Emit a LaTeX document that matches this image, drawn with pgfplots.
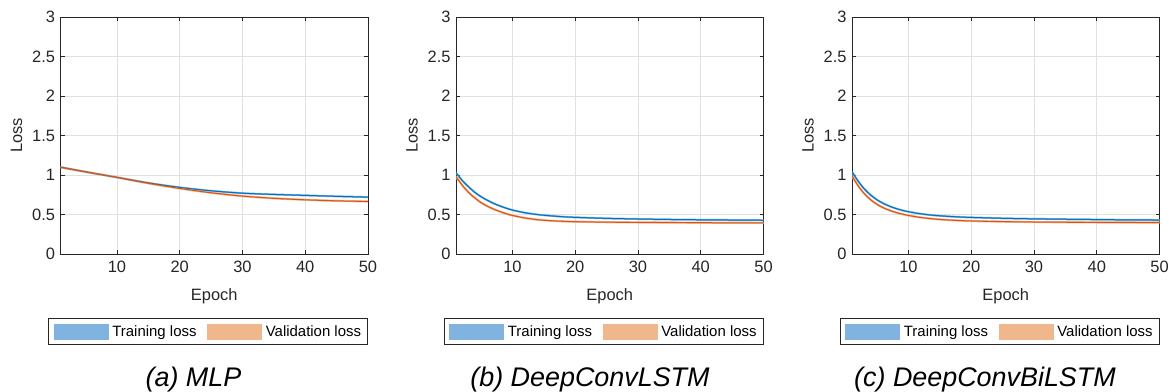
\documentclass[border=0pt]{standalone}
\usepackage{pgfplots}
\pgfplotsset{compat=1.18}
\usepackage{pgfplotstable}
\usepackage{fontspec}
\setmainfont{Liberation Sans}
\definecolor{mblue}{RGB}{0,114,189}
\definecolor{morange}{RGB}{217,83,25}
\definecolor{lblue}{RGB}{128,179,224}
\definecolor{lorange}{RGB}{240,183,140}
\definecolor{axgray}{RGB}{38,38,38}
\definecolor{gridgray}{RGB}{225,225,225}

\pgfplotstableread{
epoch train val
1  1.100 1.097
5  1.040 1.040
10 0.970 0.970
15 0.900 0.895
20 0.843 0.830
25 0.800 0.775
30 0.770 0.733
35 0.754 0.705
40 0.742 0.686
45 0.730 0.673
50 0.720 0.665
}\mlp

\pgfplotstableread{
epoch train val
1  1.030 0.980
2  0.930 0.870
3  0.850 0.780
4  0.780 0.710
5  0.725 0.650
6  0.680 0.605
7  0.640 0.568
8  0.608 0.537
9  0.580 0.510
10 0.556 0.488
12 0.522 0.456
14 0.499 0.434
16 0.484 0.422
18 0.472 0.414
20 0.464 0.409
25 0.451 0.403
30 0.443 0.400
35 0.437 0.398
40 0.433 0.396
45 0.430 0.395
50 0.427 0.394
}\lstm

\pgfplotstableread{
epoch train val
1  1.040 0.990
2  0.920 0.860
3  0.820 0.760
4  0.745 0.685
5  0.685 0.628
6  0.640 0.585
7  0.604 0.552
8  0.576 0.526
9  0.553 0.505
10 0.535 0.488
12 0.508 0.462
14 0.490 0.444
16 0.478 0.432
18 0.469 0.424
20 0.463 0.418
25 0.452 0.410
30 0.445 0.405
35 0.440 0.402
40 0.436 0.400
45 0.432 0.399
50 0.430 0.398
}\bilstm

\pgfplotsset{
  panel/.style={
    scale only axis, width=307.5bp, height=237bp, anchor=north west,
    xmin=1, xmax=50, ymin=0, ymax=3,
    xtick={10,20,30,40,50}, ytick={0,0.5,1,1.5,2,2.5,3},
    grid=major, major grid style={color=gridgray, line width=0.7bp},
    axis line style={color=axgray, line width=0.8bp},
    tick style={color=axgray, line width=0.8bp},
    tick align=inside, major tick length=4bp,
    ticklabel style={font=\fontsize{16.5}{18}\selectfont, color=axgray},
    xticklabel style={yshift=-3bp},
    yticklabel style={xshift=-2bp},
    /pgf/number format/assume math mode=true,
    xlabel=Epoch, ylabel=Loss,
    xlabel style={font=\fontsize{16.5}{18}\selectfont, color=axgray, at={(axis description cs:0.5,0)}, anchor=center, yshift=-42bp},
    ylabel style={font=\fontsize{16.5}{18}\selectfont, color=axgray, at={(axis description cs:0,0.5)}, anchor=center, rotate=0, yshift=44bp},
    legend columns=2,
    legend style={at={(1,-0.327)}, anchor=east, draw=axgray, line width=0.8bp,
      font=\fontsize{15}{17}\selectfont, inner sep=5bp,
      cells={anchor=west}, nodes={inner sep=1.5bp},
      /tikz/every odd column/.append style={column sep=2.5bp},
      /tikz/every even column/.append style={column sep=9bp}},
  },
  trainline/.style={mblue, line width=1bp, smooth},
  valline/.style={morange, line width=1bp, smooth},
  trainhalo/.style={lblue, line width=2bp, smooth, forget plot},
  valhalo/.style={lorange, line width=2.2bp, smooth, forget plot},
}

\newcommand{\panelplots}[1]{%
  \addlegendimage{legend image code/.code={\fill[lblue] (0bp,-7.5bp) rectangle (54bp,7.5bp);}}
  \addlegendentry{Training loss}
  \addlegendimage{legend image code/.code={\fill[lorange] (0bp,-7.5bp) rectangle (54bp,7.5bp);}}
  \addlegendentry{Validation loss}
  \addplot[trainhalo] table[x=epoch,y=train] {#1};
  \addplot[valhalo] table[x=epoch,y=val] {#1};
  \addplot[trainline, forget plot] table[x=epoch,y=train] {#1};
  \addplot[valline, forget plot] table[x=epoch,y=val] {#1};
}

\begin{document}
\begin{tikzpicture}
\useasboundingbox (0,0) rectangle (1169bp,-392bp);
\begin{axis}[panel, at={(60.5bp,-17bp)}]
\panelplots{\mlp}
\end{axis}
\begin{axis}[panel, at={(456bp,-17bp)}]
\panelplots{\lstm}
\end{axis}
\begin{axis}[panel, at={(852bp,-17bp)}]
\panelplots{\bilstm}
\end{axis}
\node[anchor=base, font=\fontsize{27}{30}\selectfont\itshape] at (193.5bp,-386bp) {(a) MLP};
\node[anchor=base, font=\fontsize{27}{30}\selectfont\itshape] at (590bp,-386bp) {(b) DeepConvLSTM};
\node[anchor=base, font=\fontsize{27}{30}\selectfont\itshape] at (985bp,-386bp) {(c) DeepConvBiLSTM};
\end{tikzpicture}
\end{document}
